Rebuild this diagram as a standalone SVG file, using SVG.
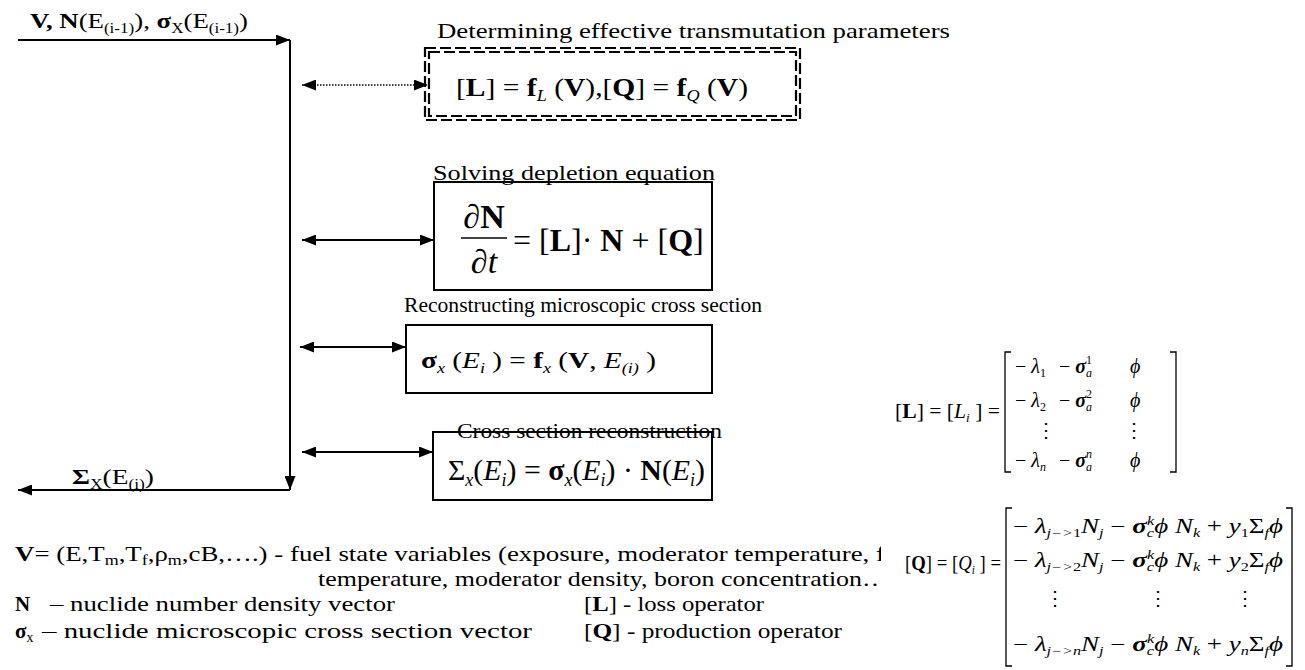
<svg xmlns="http://www.w3.org/2000/svg" width="1305" height="670" viewBox="0 0 1305 670">
<defs>
<style>
text{font-family:"Liberation Serif","Times New Roman",serif;fill:#000}
.lbl{font-size:22px}
.lg{font-size:21px}
.b{font-weight:bold}
.i{font-style:italic}
.ln{stroke:#000;stroke-width:2;fill:none}
.box{stroke:#000;stroke-width:2;fill:#fff}
.dash{stroke:#000;stroke-width:2.2;fill:none;stroke-dasharray:11 4}
.brk{stroke:#000;stroke-width:1.3;fill:none}
.m{font-size:20px}
.s{font-size:12px}
</style>
<marker id="ah" viewBox="0 0 14 11" refX="14" refY="5.5" markerWidth="14" markerHeight="11" markerUnits="userSpaceOnUse" orient="auto-start-reverse">
<path d="M0,0 L14,5.5 L0,11 Z" fill="#000"/>
</marker>
<clipPath id="clipV"><rect x="0" y="530" width="881" height="65"/></clipPath>
</defs>

<g id="connectors">
<line class="ln" x1="18" y1="40" x2="290" y2="40" marker-end="url(#ah)"/>
<line class="ln" x1="290" y1="40" x2="290" y2="490" marker-end="url(#ah)"/>
<line class="ln" x1="290" y1="490" x2="18" y2="490" marker-end="url(#ah)"/>
<line x1="302" y1="85" x2="428" y2="85" stroke="#000" stroke-width="1.3" stroke-dasharray="1.5 1.5" marker-start="url(#ah)" marker-end="url(#ah)"/>
<line class="ln" x1="302" y1="240" x2="434" y2="240" marker-start="url(#ah)" marker-end="url(#ah)"/>
<line class="ln" x1="300" y1="347" x2="406" y2="347" marker-start="url(#ah)" marker-end="url(#ah)"/>
<line class="ln" x1="302" y1="452" x2="433" y2="452" marker-start="url(#ah)" marker-end="url(#ah)"/>
</g>

<g id="input-label">
<text class="lbl" x="30" y="28" textLength="218" lengthAdjust="spacingAndGlyphs"><tspan class="b">V, N</tspan>(E<tspan font-size="14" dy="5">(i-1)</tspan><tspan dy="-5">), </tspan><tspan class="b">σ</tspan><tspan font-size="14" dy="5">X</tspan><tspan dy="-5">(E</tspan><tspan font-size="14" dy="5">(i-1)</tspan><tspan dy="-5">)</tspan></text>
</g>

<g id="output-label">
<text class="lbl" x="72" y="484" textLength="82" lengthAdjust="spacingAndGlyphs"><tspan class="b">Σ</tspan><tspan font-size="14" dy="5">X</tspan><tspan dy="-5">(E</tspan><tspan font-size="14" dy="5">(i)</tspan><tspan dy="-5">)</tspan></text>
</g>

<g id="node-transmutation">
<text class="lbl" x="437" y="38" textLength="513" lengthAdjust="spacingAndGlyphs">Determining effective transmutation parameters</text>
<rect class="dash" x="425" y="48" width="375" height="72"/>
<rect class="dash" x="429" y="52" width="367" height="64"/>
<text x="456" y="96" font-size="26" textLength="292" lengthAdjust="spacingAndGlyphs">[<tspan class="b">L</tspan>] = <tspan class="b">f</tspan><tspan class="i" font-size="16" dy="5">L</tspan><tspan dy="-5"> (</tspan><tspan class="b">V</tspan>),[<tspan class="b">Q</tspan>] = <tspan class="b">f</tspan><tspan class="i" font-size="16" dy="5">Q</tspan><tspan dy="-5"> (</tspan><tspan class="b">V</tspan>)</text>
</g>

<g id="node-depletion">
<rect class="box" x="434" y="182" width="278" height="108"/>
<text class="lbl" x="433" y="180" textLength="282" lengthAdjust="spacingAndGlyphs">Solving depletion equation</text>
<text x="484" y="228" font-size="34" text-anchor="middle">∂<tspan class="b">N</tspan></text>
<line x1="461" y1="238" x2="507" y2="238" stroke="#000" stroke-width="1.5"/>
<text x="484" y="273" font-size="34" text-anchor="middle">∂<tspan class="i">t</tspan></text>
<text x="513" y="251" font-size="32">= [<tspan class="b">L</tspan>]· <tspan class="b">N</tspan> + [<tspan class="b">Q</tspan>]</text>
</g>

<g id="node-micro">
<text class="lbl" x="404" y="312" textLength="358" lengthAdjust="spacingAndGlyphs">Reconstructing microscopic cross section</text>
<rect class="box" x="406" y="325" width="306" height="68"/>
<text x="421" y="368" font-size="24" textLength="235" lengthAdjust="spacingAndGlyphs"><tspan class="b">σ</tspan><tspan class="i" font-size="15" dy="5">x</tspan><tspan dy="-5"> (</tspan><tspan class="i">E</tspan><tspan class="i" font-size="15" dy="5">i</tspan><tspan dy="-5"> ) = </tspan><tspan class="b">f</tspan><tspan class="i" font-size="15" dy="5">x</tspan><tspan dy="-5"> (</tspan><tspan class="b">V</tspan>, <tspan class="i">E</tspan><tspan class="i" font-size="15" dy="5">(i)</tspan><tspan dy="-5"> )</tspan></text>
</g>

<g id="node-macro">
<rect class="box" x="433" y="432" width="279" height="68"/>
<text class="lbl" x="457" y="438" textLength="265" lengthAdjust="spacingAndGlyphs">Cross section reconstruction</text>
<text x="448" y="480" font-size="30" textLength="257" lengthAdjust="spacingAndGlyphs">Σ<tspan class="i" font-size="18" dy="6">x</tspan><tspan dy="-6">(</tspan><tspan class="i">E</tspan><tspan class="i" font-size="18" dy="6">i</tspan><tspan dy="-6">) = </tspan><tspan class="b">σ</tspan><tspan class="i" font-size="18" dy="6">x</tspan><tspan dy="-6">(</tspan><tspan class="i">E</tspan><tspan class="i" font-size="18" dy="6">i</tspan><tspan dy="-6">) · </tspan><tspan class="b">N</tspan>(<tspan class="i">E</tspan><tspan class="i" font-size="18" dy="6">i</tspan><tspan dy="-6">)</tspan></text>
</g>

<g id="matrix-L">
<text x="895" y="418" font-size="20" textLength="105" lengthAdjust="spacingAndGlyphs">[<tspan class="b">L</tspan>] = [<tspan class="i">L</tspan><tspan class="i" font-size="12" dy="4">i</tspan><tspan dy="-4"> ] =</tspan></text>
<path class="brk" d="M1011,352 H1005 V472 H1011"/>
<path class="brk" d="M1170,352 H1176 V472 H1170"/>
<text class="m" x="1015" y="373">− <tspan class="i">λ</tspan><tspan class="s" dy="4">1</tspan><tspan dy="-4" x="1059">− </tspan><tspan class="i b">σ</tspan><tspan class="i s" dy="4">a</tspan><tspan class="s" dx="-6" dy="-13">1</tspan><tspan class="i" x="1130" dy="9">ϕ</tspan></text>
<text class="m" x="1015" y="407">− <tspan class="i">λ</tspan><tspan class="s" dy="4">2</tspan><tspan dy="-4" x="1059">− </tspan><tspan class="i b">σ</tspan><tspan class="i s" dy="4">a</tspan><tspan class="s" dx="-6" dy="-13">2</tspan><tspan class="i" x="1130" dy="9">ϕ</tspan></text>
<text class="m" x="1046" y="437" text-anchor="middle">⋮</text>
<text class="m" x="1134" y="437" text-anchor="middle">⋮</text>
<text class="m" x="1015" y="467">− <tspan class="i">λ</tspan><tspan class="i s" dy="4">n</tspan><tspan dy="-4" x="1059">− </tspan><tspan class="i b">σ</tspan><tspan class="i s" dy="4">a</tspan><tspan class="i s" dx="-6" dy="-13">n</tspan><tspan class="i" x="1130" dy="9">ϕ</tspan></text>
</g>

<g id="matrix-Q">
<rect x="881" y="500" width="424" height="170" fill="#fff"/>
<text x="905" y="570" font-size="20" textLength="96" lengthAdjust="spacingAndGlyphs">[<tspan class="b">Q</tspan>] = [<tspan class="i">Q</tspan><tspan class="i" font-size="12" dy="4">i</tspan><tspan dy="-4"> ] =</tspan></text>
<path class="brk" d="M1012,508 H1006 V666 H1012"/>
<path class="brk" d="M1286,508 H1292 V666 H1286"/>
<text class="m" x="1013" y="533" textLength="270" lengthAdjust="spacingAndGlyphs">− <tspan class="i">λ</tspan><tspan class="i s" dy="4">j−&gt;</tspan><tspan class="s">1</tspan><tspan class="i" dy="-4">N</tspan><tspan class="i s" dy="4">j</tspan><tspan dy="-4"> − </tspan><tspan class="i b">σ</tspan><tspan class="i s" dy="4">c</tspan><tspan class="i s" dx="-5" dy="-12">k</tspan><tspan class="i" dy="8">ϕ N</tspan><tspan class="i s" dy="4">k</tspan><tspan dy="-4"> + </tspan><tspan class="i">y</tspan><tspan class="s" dy="4">1</tspan><tspan dy="-4">Σ</tspan><tspan class="i s" dy="4">f</tspan><tspan class="i" dy="-4">ϕ</tspan></text>
<text class="m" x="1013" y="567" textLength="270" lengthAdjust="spacingAndGlyphs">− <tspan class="i">λ</tspan><tspan class="i s" dy="4">j−&gt;</tspan><tspan class="s">2</tspan><tspan class="i" dy="-4">N</tspan><tspan class="i s" dy="4">j</tspan><tspan dy="-4"> − </tspan><tspan class="i b">σ</tspan><tspan class="i s" dy="4">c</tspan><tspan class="i s" dx="-5" dy="-12">k</tspan><tspan class="i" dy="8">ϕ N</tspan><tspan class="i s" dy="4">k</tspan><tspan dy="-4"> + </tspan><tspan class="i">y</tspan><tspan class="s" dy="4">2</tspan><tspan dy="-4">Σ</tspan><tspan class="i s" dy="4">f</tspan><tspan class="i" dy="-4">ϕ</tspan></text>
<text class="m" x="1055" y="605" text-anchor="middle">⋮</text>
<text class="m" x="1158" y="605" text-anchor="middle">⋮</text>
<text class="m" x="1245" y="605" text-anchor="middle">⋮</text>
<text class="m" x="1013" y="651" textLength="270" lengthAdjust="spacingAndGlyphs">− <tspan class="i">λ</tspan><tspan class="i s" dy="4">j−&gt;n</tspan><tspan class="i" dy="-4">N</tspan><tspan class="i s" dy="4">j</tspan><tspan dy="-4"> − </tspan><tspan class="i b">σ</tspan><tspan class="i s" dy="4">c</tspan><tspan class="i s" dx="-5" dy="-12">k</tspan><tspan class="i" dy="8">ϕ N</tspan><tspan class="i s" dy="4">k</tspan><tspan dy="-4"> + </tspan><tspan class="i">y</tspan><tspan class="i s" dy="4">n</tspan><tspan dy="-4">Σ</tspan><tspan class="i s" dy="4">f</tspan><tspan class="i" dy="-4">ϕ</tspan></text>
</g>

<g id="legend">
<g clip-path="url(#clipV)">
<text class="lg" x="15" y="561" textLength="870" lengthAdjust="spacingAndGlyphs"><tspan class="b">V</tspan>= (E,T<tspan font-size="14" dy="4">m</tspan><tspan dy="-4">,T</tspan><tspan font-size="14" dy="4">f</tspan><tspan dy="-4">,ρ</tspan><tspan font-size="14" dy="4">m</tspan><tspan dy="-4">,cB,….)  - fuel state variables (exposure, moderator temperature, f</tspan></text>
<text class="lg" x="318" y="586" textLength="570" lengthAdjust="spacingAndGlyphs">temperature, moderator density, boron concentration…</text>
</g>
<text class="lg b" x="15" y="611">N</text>
<text class="lg" x="50" y="611" textLength="345" lengthAdjust="spacingAndGlyphs">– nuclide number density vector</text>
<text class="lg" x="584" y="611" textLength="180" lengthAdjust="spacingAndGlyphs">[<tspan class="b">L</tspan>] - loss operator</text>
<text class="lg" x="15" y="638"><tspan class="b">σ</tspan><tspan font-size="14" dy="4">x</tspan></text>
<text class="lg" x="42" y="638" textLength="490" lengthAdjust="spacingAndGlyphs">– nuclide microscopic cross section vector</text>
<text class="lg" x="584" y="638" textLength="258" lengthAdjust="spacingAndGlyphs">[<tspan class="b">Q</tspan>] - production operator</text>
</g>
</svg>
